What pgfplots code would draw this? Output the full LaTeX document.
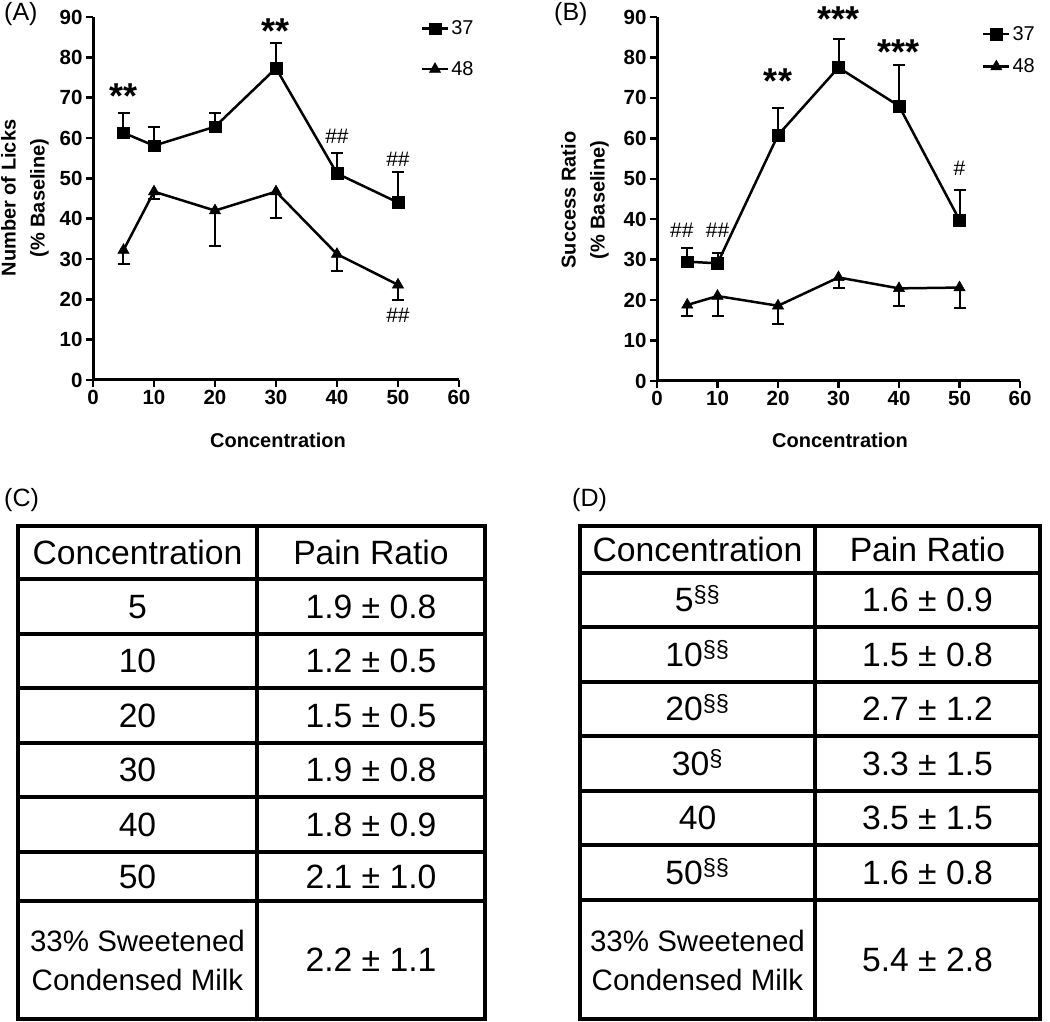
\documentclass[border=0pt]{standalone}
\usepackage{pgfplots}
\pgfplotsset{compat=1.18}
\usepackage{fontspec}
\setmainfont{Liberation Sans}
\begin{document}
\begin{tikzpicture}[x=1pt,y=1pt]
\tikzset{
  ann/.style={font=\fontsize{21}{24}\selectfont, inner sep=0pt},
  stars/.style={font=\bfseries\fontsize{36}{40}\selectfont, inner sep=0pt, anchor=north},
}
\pgfplotsset{
  panel/.style={
    scale only axis, width=366pt, height=363pt,
    xmin=0,xmax=60,ymin=0,ymax=90,
    axis lines=left, axis line style={line width=3pt, -},
    xtick={0,10,...,60}, ytick={0,10,...,90},
    tick align=outside, major tick length=7pt,
    tick style={line width=2.5pt, black},
    tick label style={font=\bfseries\fontsize{20.5}{22}\selectfont},
    /pgf/number format/assume math mode=true,
    clip=false,
    legend style={draw=none, fill=none, font=\fontsize{20}{22}\selectfont, inner sep=0pt, row sep=21pt, anchor=north west},
    legend cell align=left,
    legend image code/.code={\draw[line width=2.5pt, mark repeat=2, mark phase=2] plot coordinates {(0pt,0pt) (13pt,0pt) (26pt,0pt)};},
  },
  s37/.style={black, line width=2.5pt, mark=square*, mark size=5.8pt, mark options={solid, line width=0.5pt},
    error bars/.cd, y dir=plus, y explicit, error bar style={line width=2pt, black}, error mark options={line width=2pt, mark size=6pt, black, rotate=90}},
  s48/.style={black, line width=2.5pt, mark=triangle*, mark size=6.5pt, mark options={solid, line width=0.5pt},
    error bars/.cd, y dir=minus, y explicit, error bar style={line width=2pt, black}, error mark options={line width=2pt, mark size=6pt, black, rotate=90}},
}
% ---------------- Panel A ----------------
\begin{axis}[panel, at={(93pt,642pt)}, anchor=south west,
  legend style={at={(axis description cs:0.895,0.995)}}]
\addplot+[s37] table[x=x,y=y,y error=e] {
x y e
5 61.3 4.8
10 58.1 4.7
20 62.8 3.3
30 77.3 6.3
40 51.2 5.0
50 44.0 7.6
};
\addlegendentry{37}
\addplot+[s48] table[x=x,y=y,y error=e] {
x y e
5 32.2 3.5
10 46.7 1.9
20 42.0 8.9
30 46.7 6.6
40 31.2 4.2
50 23.6 3.8
};
\addlegendentry{48}
\node[stars] at (axis cs:5,73.6) {**};
\node[stars] at (axis cs:30,89.7) {**};
\node[ann] at (axis cs:40,60.5) {\#\#};
\node[ann] at (axis cs:50,54.6) {\#\#};
\node[ann] at (axis cs:50,16.1) {\#\#};
\end{axis}
% ---------------- Panel B ----------------
\begin{axis}[panel, width=363pt, height=364pt, at={(657pt,641pt)}, anchor=south west,
  legend style={at={(axis description cs:0.895,0.98)}, row sep=13pt}]
\addplot+[s37] table[x=x,y=y,y error=e] {
x y e
5 29.5 3.5
10 29.1 2.6
20 60.8 6.6
30 77.5 7.1
40 68.0 10.1
50 39.8 7.4
};
\addlegendentry{37}
\addplot+[s48] table[x=x,y=y,y error=e] {
x y e
5 18.8 2.7
10 21.0 4.9
20 18.6 4.6
30 25.6 2.7
40 22.9 4.4
50 23.1 5.0
};
\addlegendentry{48}
\node[ann] at (axis cs:4.1,37.3) {\#\#};
\node[ann] at (axis cs:10,37.3) {\#\#};
\node[stars] at (axis cs:20,77.3) {**};
\node[stars] at (axis cs:30,92.6) {***};
\node[stars] at (axis cs:40,84.5) {***};
\node[ann] at (axis cs:50,52.7) {\#};
\end{axis}
% ---------------- axis labels ----------------
\node[font=\bfseries\fontsize{20}{22}\selectfont] at (278,582) {Concentration};
\node[font=\bfseries\fontsize{20}{22}\selectfont] at (840,582) {Concentration};
\node[font=\bfseries\fontsize{20}{29}\selectfont, rotate=90, align=center] at (25,824) {Number of Licks\\(\% Baseline)};
\node[font=\bfseries\fontsize{20}{29}\selectfont, rotate=90, align=center] at (585,822) {Success Ratio\\(\% Baseline)};
% panel letters
\node[font=\fontsize{25}{28}\selectfont, anchor=west, inner sep=0pt] at (4,1008) {(A)};
\node[font=\fontsize{25}{28}\selectfont, anchor=west, inner sep=0pt] at (554,1008) {(B)};
\node[font=\fontsize{25}{28}\selectfont, anchor=west, inner sep=0pt] at (4,522) {(C)};
\node[font=\fontsize{25}{28}\selectfont, anchor=west, inner sep=0pt] at (572,522) {(D)};
% ---------------- Table C ----------------
\begin{scope}[line width=3.8pt]
\draw (18,496) rectangle (485,3);
\draw (257,496) -- (257,3);
\foreach \yy in {579,634,688,743,797,852,901} \draw (18,1022-\yy) -- (485,1022-\yy);
\end{scope}
\begin{scope}[every node/.style={font=\fontsize{33.7}{39}\selectfont, anchor=base, inner sep=0pt}]
\node at (137.5,1022-552.5-12) {Concentration};
\node at (371,1022-552.5-12) {Pain Ratio};
\node at (137.5,1022-606.5-12) {5};
\node at (371,1022-606.5-12) {1.9 ± 0.8};
\node at (137.5,1022-661-12) {10};
\node at (371,1022-661-12) {1.2 ± 0.5};
\node at (137.5,1022-715.5-12) {20};
\node at (371,1022-715.5-12) {1.5 ± 0.5};
\node at (137.5,1022-770-12) {30};
\node at (371,1022-770-12) {1.9 ± 0.8};
\node at (137.5,1022-824.5-12) {40};
\node at (371,1022-824.5-12) {1.8 ± 0.9};
\node at (137.5,1022-876.5-12) {50};
\node at (371,1022-876.5-12) {2.1 ± 1.0};
\node[align=center, anchor=center, font=\fontsize{29.5}{39}\selectfont] at (137.5,1022-960) {33\% Sweetened\\Condensed Milk};
\node at (371,1022-960-12) {2.2 ± 1.1};
\end{scope}
% ---------------- Table D ----------------
\begin{scope}[line width=3.8pt]
\draw (580,496) rectangle (1040,3);
\draw (815,496) -- (815,3);
\foreach \yy in {573,627,682,736,791,845,900} \draw (580,1022-\yy) -- (1040,1022-\yy);
\end{scope}
\begin{scope}[every node/.style={font=\fontsize{33.7}{39}\selectfont, anchor=base, inner sep=0pt}]
\node at (697.5,1022-549.5-12) {Concentration};
\node at (927.5,1022-549.5-12) {Pain Ratio};
\node at (697.5,1022-600-12) {5\textsuperscript{§§}};
\node at (927.5,1022-600-12) {1.6 ± 0.9};
\node at (697.5,1022-654.5-12) {10\textsuperscript{§§}};
\node at (927.5,1022-654.5-12) {1.5 ± 0.8};
\node at (697.5,1022-709-12) {20\textsuperscript{§§}};
\node at (927.5,1022-709-12) {2.7 ± 1.2};
\node at (697.5,1022-763.5-12) {30\textsuperscript{§}};
\node at (927.5,1022-763.5-12) {3.3 ± 1.5};
\node at (697.5,1022-818-12) {40};
\node at (927.5,1022-818-12) {3.5 ± 1.5};
\node at (697.5,1022-872.5-12) {50\textsuperscript{§§}};
\node at (927.5,1022-872.5-12) {1.6 ± 0.8};
\node[align=center, anchor=center, font=\fontsize{29.5}{39}\selectfont] at (697.5,1022-960) {33\% Sweetened\\Condensed Milk};
\node at (927.5,1022-960-12) {5.4 ± 2.8};
\end{scope}
\pgfresetboundingbox
\path (0,0) rectangle (1050,1022);
\end{tikzpicture}
\end{document}
